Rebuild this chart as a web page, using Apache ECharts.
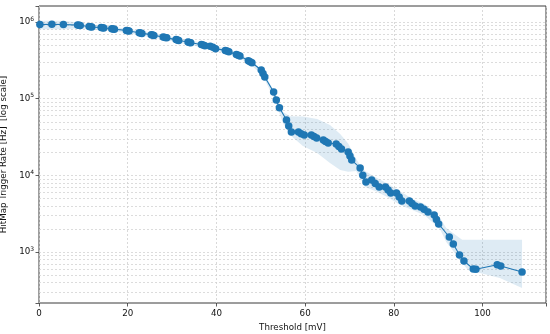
<!DOCTYPE html>
<html><head><meta charset="utf-8">
<script src="https://cdn.jsdelivr.net/npm/echarts@6/dist/echarts.min.js"></script>
<style>html,body{margin:0;padding:0;background:#fff}#c{width:550px;height:334px}</style>
</head><body><div id="c"></div>
<script>
const thresholds = [0.2, 2.9, 5.5,
 8.7, 9.0, 9.3, 11.3, 11.6, 11.9, 14.0, 14.3, 14.6, 16.4, 16.7, 17.0,
 19.7, 20.0, 20.3, 22.6, 22.9, 23.2, 25.3, 25.6, 25.9, 28.0, 28.4, 28.8,
 30.9, 31.2, 31.5, 33.6, 33.9, 34.2, 36.6, 37.0, 37.4, 38.6, 39.2, 39.8,
 42.0, 42.4, 42.8, 44.5, 44.9, 45.3, 47.2, 47.6, 48.0, 50.1, 50.5, 50.9,
 52.9, 53.5, 54.2, 55.8, 56.3, 56.9, 58.5, 59.1, 59.8, 61.4, 62.0, 62.6,
 64.1, 64.6, 65.2, 67.0, 67.6, 68.2, 69.7, 70.1, 70.5, 72.4, 73.0, 73.7,
 75.0, 75.8, 76.7, 78.1, 78.7, 79.3, 80.6, 81.2, 81.8, 83.5, 84.1, 84.8,
 86.0, 86.8, 87.7, 89.1, 89.6, 90.1, 92.5, 93.4, 94.8, 95.8, 97.9, 98.5,
 103.3, 104.1, 108.9];
const rates = [9.28e5, 9.33e5, 9.30e5,
 9.12e5, 9.06e5, 9.0e5, 8.75e5, 8.68e5, 8.6e5, 8.5e5, 8.44e5, 8.37e5, 8.17e5, 8.11e5, 8.04e5,
 7.78e5, 7.71e5, 7.63e5, 7.27e5, 7.19e5, 7.11e5, 6.85e5, 6.77e5, 6.69e5, 6.40e5, 6.31e5, 6.22e5,
 5.90e5, 5.82e5, 5.74e5, 5.5e5, 5.43e5, 5.36e5, 5.1e5, 5.01e5, 4.92e5, 4.85e5, 4.68e5, 4.5e5,
 4.27e5, 4.19e5, 4.1e5, 3.76e5, 3.68e5, 3.6e5, 3.12e5, 3.04e5, 2.95e5, 2.37e5, 2.14e5, 1.92e5,
 1.22e5, 9.6e4, 7.6e4, 5.27e4, 4.4e4, 3.67e4, 3.67e4, 3.5e4, 3.36e4, 3.36e4, 3.21e4, 3.07e4,
 2.89e4, 2.76e4, 2.64e4, 2.56e4, 2.38e4, 2.21e4, 2.02e4, 1.79e4, 1.58e4, 1.25e4, 1.0e4, 8.2e3,
 8.7e3, 7.8e3, 7.05e3, 7.05e3, 6.45e3, 5.89e3, 5.89e3, 5.2e3, 4.63e3, 4.63e3, 4.3e3, 3.98e3,
 3.87e3, 3.6e3, 3.33e3, 3.04e3, 2.65e3, 2.32e3, 1.57e3, 1.27e3, 914, 764, 600, 595,
 680, 655, 548];
const bandX = [0.2, 5.5, 9.0, 11.6, 14.3, 16.7, 20.0, 22.9, 25.6, 28.4, 31.2, 33.9, 37.0, 39.2,
 42.4, 44.9, 47.6, 50.5, 53.5, 55.0, 56.6, 59.5, 62.7, 65.6, 67.9, 69.7, 71.5, 72.4, 73.5,
 75.8, 78.5, 81.4, 84.3, 87.0, 89.6, 90.4, 91.8, 92.7, 95.4, 96.7, 99.4, 103.9, 108.9];
const bandLow = [8.05e5, 8.05e5, 8.3e5, 8.1e5, 7.9e5, 7.6e5, 7.2e5, 6.7e5, 6.3e5, 5.9e5, 5.4e5, 5.05e5, 4.65e5, 4.35e5,
 3.9e5, 3.42e5, 2.83e5, 1.98e5, 8.6e4, 4.8e4, 3.36e4, 2.42e4, 1.96e4, 1.45e4, 1.17e4, 1.11e4, 1.14e4, 9.2e3, 7.05e3,
 6.25e3, 5.2e3, 4.1e3, 3.5e3, 3.0e3, 2.2e3, 2.0e3, 1.35e3, 1.16e3, 720, 583, 532, 458, 340];
const bandHigh = [1.04e6, 1.04e6, 9.9e5, 9.2e5, 9.0e5, 8.6e5, 8.2e5, 7.7e5, 7.25e5, 6.75e5, 6.2e5, 5.8e5, 5.35e5, 5.0e5,
 4.48e5, 3.94e5, 3.25e5, 2.3e5, 1.1e5, 6.7e4, 5.9e4, 5.85e4, 5.43e4, 4.54e4, 3.46e4, 2.6e4, 1.65e4, 1.35e4, 1.14e4,
 9.5e3, 7.8e3, 6.2e3, 4.9e3, 4.2e3, 3.1e3, 2.8e3, 2.06e3, 1.88e3, 1.44e3, 1.44e3, 1.44e3, 1.44e3, 1.44e3];
const xTicks = [0, 20, 40, 60, 80, 100];
const yDecades = [3, 4, 5, 6];
const xName = 'Threshold [mV]';
const yName = 'HitMap Trigger Rate [Hz]  [log scale]';

const FONT = 'DejaVu Sans';
const BLUE = '#1f77b4';
const yMin = 216, yMax = 1.62e6;

// minor grid positions (2..9 x 10^n) inside the axis range
const minorGrid = [];
for (let e = 2; e <= 6; e++) for (let k = 2; k <= 9; k++) {
  const v = k * Math.pow(10, e);
  if (v > yMin && v < yMax) minorGrid.push({ yAxis: v });
}
const majorGrid = yDecades.map(d => ({ yAxis: Math.pow(10, d) }));

const chart = echarts.init(document.getElementById('c'), null, { renderer: 'canvas' });
chart.setOption({
  animation: false,
  backgroundColor: '#fff',
  grid: { left: 39, right: 4, top: 6, bottom: 31, containLabel: false, outerBoundsMode: 'none',
    show: true, borderColor: '#3a3a3a', borderWidth: 1, backgroundColor: 'transparent' },
  xAxis: {
    type: 'value', min: 0, max: 114.3, interval: 20,
    name: xName, nameLocation: 'middle', nameGap: 19,
    nameTextStyle: { fontFamily: FONT, fontSize: 8.7, color: '#111' },
    axisLine: { show: false },
    axisTick: { show: true, length: 3.5, lineStyle: { color: '#333', width: 0.8 } },
    axisLabel: { fontFamily: FONT, fontSize: 8.7, color: '#111', margin: 6,
      formatter: v => xTicks.indexOf(Math.round(v * 1000) / 1000) >= 0 ? String(v) : '' },
    splitLine: { show: true, lineStyle: { color: '#d0d0d0', type: [2, 2], width: 0.8 } }
  },
  yAxis: {
    type: 'log', logBase: 10, min: yMin, max: yMax,
    name: yName, nameLocation: 'middle', nameGap: 25,
    nameTextStyle: { fontFamily: FONT, fontSize: 8.7, color: '#111' },
    axisLine: { show: false },
    axisTick: { show: true, length: 3.5, lineStyle: { color: '#333', width: 0.8 } },
    axisLabel: { fontFamily: FONT, fontSize: 8.7, color: '#111', margin: 5,
      formatter: v => {
        const l = Math.log10(v), e = Math.round(l);
        if (Math.abs(l - e) > 1e-6 || yDecades.indexOf(e) < 0) return '';
        return '10{sup|' + e + '}';
      },
      rich: { sup: { fontFamily: FONT, fontSize: 6, color: '#111', padding: [0, 0, 6, 0] } }
    },
    splitLine: { show: false }
  },
  series: [
    {
      type: 'line', data: [], z: 1, silent: true,
      markLine: {
        z: 1, silent: true, symbol: 'none', label: { show: false }, animation: false,
        lineStyle: { color: '#d4d4d4', type: [2, 2], width: 0.8 },
        data: minorGrid.concat(majorGrid)
      }
    },
    {
      type: 'custom', z: 2, silent: true, clip: true,
      data: [[bandX[0], bandLow[0]]],
      renderItem: (params, api) => {
        if (params.dataIndex !== 0) return;
        const pts = [];
        for (let i = 0; i < bandX.length; i++) pts.push(api.coord([bandX[i], bandHigh[i]]));
        for (let i = bandX.length - 1; i >= 0; i--) pts.push(api.coord([bandX[i], bandLow[i]]));
        return { type: 'polygon', shape: { points: pts }, style: { fill: 'rgba(31,119,180,0.15)', stroke: null } };
      }
    },
    {
      type: 'line', z: 10,
      data: thresholds.map((x, i) => [x, rates[i]]),
      symbol: 'circle', symbolSize: 7.5, showAllSymbol: true,
      itemStyle: { color: BLUE, borderColor: BLUE, borderWidth: 0, opacity: 1 },
      lineStyle: { color: BLUE, width: 1.1 },
      emphasis: { disabled: true }
    }
  ]
});
</script></body></html>
